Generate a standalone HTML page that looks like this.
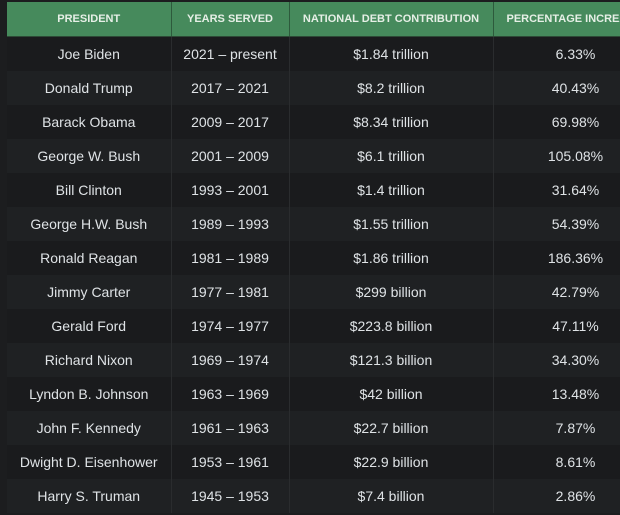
<!DOCTYPE html>
<html><head><style>
html,body{margin:0;padding:0;width:620px;height:515px;overflow:hidden;background:#1c1d1f;}
table{position:absolute;left:7px;top:2px;border-collapse:collapse;table-layout:fixed;width:651px;font-family:"Liberation Sans",sans-serif;}
th{background:#468a5c;color:#e6efe6;font-size:11px;font-weight:bold;height:34px;padding:0;border-right:1px solid #2d5a3c;border-bottom:1px solid #2d4a36;white-space:nowrap;overflow:hidden;}
td{height:34px;padding:0;text-align:center;color:#dfe3e6;font-size:14px;border-right:1px solid #2a2c2e;}
tr:nth-child(odd) td{background:#1a1b1d;}
tr:nth-child(even) td{background:#1f2123;}
</style></head><body>
<table>
<colgroup><col style="width:164px"><col style="width:118px"><col style="width:204px"><col style="width:165px"></colgroup>
<thead><tr><th>PRESIDENT</th><th>YEARS SERVED</th><th>NATIONAL DEBT CONTRIBUTION</th><th style="text-align:left;padding-left:13px">PERCENTAGE INCREASE</th></tr></thead>
<tbody>
<tr><td>Joe Biden</td><td>2021 – present</td><td>$1.84 trillion</td><td>6.33%</td></tr>
<tr><td>Donald Trump</td><td>2017 – 2021</td><td>$8.2 trillion</td><td>40.43%</td></tr>
<tr><td>Barack Obama</td><td>2009 – 2017</td><td>$8.34 trillion</td><td>69.98%</td></tr>
<tr><td>George W. Bush</td><td>2001 – 2009</td><td>$6.1 trillion</td><td>105.08%</td></tr>
<tr><td>Bill Clinton</td><td>1993 – 2001</td><td>$1.4 trillion</td><td>31.64%</td></tr>
<tr><td>George H.W. Bush</td><td>1989 – 1993</td><td>$1.55 trillion</td><td>54.39%</td></tr>
<tr><td>Ronald Reagan</td><td>1981 – 1989</td><td>$1.86 trillion</td><td>186.36%</td></tr>
<tr><td>Jimmy Carter</td><td>1977 – 1981</td><td>$299 billion</td><td>42.79%</td></tr>
<tr><td>Gerald Ford</td><td>1974 – 1977</td><td>$223.8 billion</td><td>47.11%</td></tr>
<tr><td>Richard Nixon</td><td>1969 – 1974</td><td>$121.3 billion</td><td>34.30%</td></tr>
<tr><td>Lyndon B. Johnson</td><td>1963 – 1969</td><td>$42 billion</td><td>13.48%</td></tr>
<tr><td>John F. Kennedy</td><td>1961 – 1963</td><td>$22.7 billion</td><td>7.87%</td></tr>
<tr><td>Dwight D. Eisenhower</td><td>1953 – 1961</td><td>$22.9 billion</td><td>8.61%</td></tr>
<tr><td>Harry S. Truman</td><td>1945 – 1953</td><td>$7.4 billion</td><td>2.86%</td></tr>
</tbody></table>
</body></html>
